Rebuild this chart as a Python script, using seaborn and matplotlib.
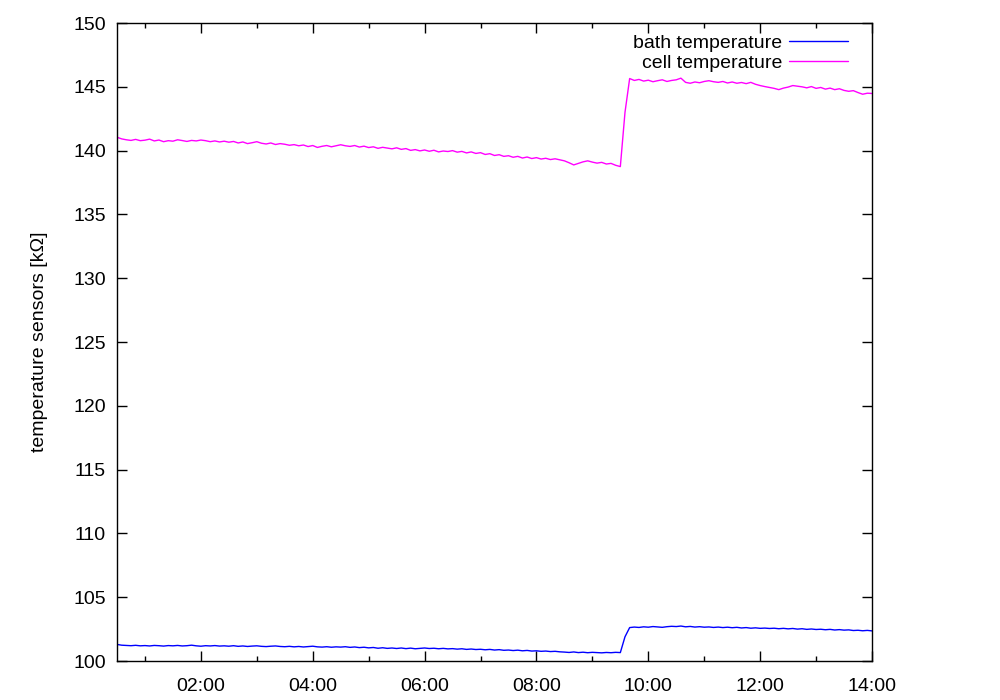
import matplotlib
matplotlib.use("Agg")
import matplotlib.pyplot as plt
import matplotlib.dates as mdates
import seaborn as sns
import pandas as pd

# readings every 5 minutes, 00:30 .. 14:00 (one row per hour)
cell_temp = [
    141.05, 140.92, 140.85, 140.80, 140.88, 140.78, 140.82, 140.90, 140.76, 140.83, 140.70, 140.78,
    140.74, 140.85, 140.79, 140.72, 140.80, 140.76, 140.83, 140.78, 140.70, 140.76, 140.68, 140.74,
    140.66, 140.72, 140.60, 140.68, 140.55, 140.62, 140.70, 140.58, 140.52, 140.60, 140.48, 140.55,
    140.50, 140.42, 140.47, 140.38, 140.44, 140.32, 140.40, 140.25, 140.34, 140.40, 140.30, 140.38,
    140.46, 140.38, 140.33, 140.40, 140.28, 140.35, 140.24, 140.30, 140.18, 140.26, 140.20, 140.14,
    140.22, 140.10, 140.16, 140.02, 140.08, 139.98, 140.05, 139.95, 140.03, 139.90, 139.97, 139.93,
    140.00, 139.88, 139.94, 139.82, 139.90, 139.78, 139.84, 139.70, 139.76, 139.62, 139.68, 139.55,
    139.60, 139.48, 139.55, 139.42, 139.50, 139.38, 139.45, 139.34, 139.40, 139.30, 139.36, 139.28,
    139.20, 139.05, 138.88, 139.00, 139.12, 139.20, 139.10, 139.02, 139.08, 138.95, 139.00, 138.85,
    138.75, 143.00, 145.65, 145.50, 145.58, 145.45, 145.52, 145.40, 145.48, 145.55, 145.42, 145.50,
    145.55, 145.68, 145.35, 145.28, 145.38, 145.32, 145.42, 145.48, 145.40, 145.35, 145.42, 145.30,
    145.38, 145.28, 145.34, 145.25, 145.35, 145.20, 145.10, 145.02, 144.95, 144.88, 144.78, 144.90,
    144.98, 145.10, 145.05, 145.00, 144.92, 145.02, 144.88, 144.95, 144.82, 144.90, 144.78, 144.85,
    144.72, 144.65, 144.70, 144.55, 144.42, 144.50, 144.48,
]
bath_temp = [
    101.30, 101.24, 101.22, 101.20, 101.23, 101.19, 101.21, 101.18, 101.22, 101.20, 101.17, 101.21,
    101.19, 101.22, 101.18, 101.20, 101.24, 101.19, 101.16, 101.20, 101.18, 101.21, 101.17, 101.19,
    101.16, 101.20, 101.15, 101.18, 101.14, 101.17, 101.19, 101.15, 101.13, 101.16, 101.18, 101.14,
    101.12, 101.15, 101.11, 101.14, 101.10, 101.13, 101.16, 101.11, 101.09, 101.12, 101.08, 101.11,
    101.09, 101.12, 101.07, 101.10, 101.05, 101.08, 101.03, 101.06, 101.00, 101.04, 100.99, 101.02,
    100.98, 101.02, 100.97, 101.01, 100.96, 100.99, 101.02, 100.98, 101.00, 100.96, 100.99, 100.95,
    100.97, 100.93, 100.96, 100.91, 100.94, 100.90, 100.92, 100.88, 100.91, 100.86, 100.89, 100.84,
    100.86, 100.82, 100.85, 100.80, 100.83, 100.78, 100.80, 100.76, 100.78, 100.74, 100.76, 100.72,
    100.70, 100.67, 100.71, 100.66, 100.69, 100.65, 100.68, 100.66, 100.64, 100.67, 100.65, 100.68,
    100.66, 101.90, 102.62, 102.66, 102.63, 102.68, 102.65, 102.70, 102.67, 102.64, 102.69, 102.72,
    102.70, 102.74, 102.68, 102.71, 102.66, 102.69, 102.65, 102.67, 102.63, 102.66, 102.62, 102.65,
    102.61, 102.64, 102.59, 102.62, 102.57, 102.60, 102.56, 102.58, 102.55, 102.57, 102.53, 102.56,
    102.52, 102.55, 102.50, 102.53, 102.48, 102.51, 102.47, 102.49, 102.45, 102.48, 102.43, 102.46,
    102.42, 102.44, 102.39, 102.41, 102.37, 102.40, 102.36,
]
times = pd.date_range("2000-01-01 00:30", "2000-01-01 14:00", freq="5min")
series_names = ["bath temperature", "cell temperature"]
series_colors = ["#0000ff", "#ff00ff"]

df = pd.concat([
    pd.DataFrame({"time": times, "value": bath_temp, "sensor": series_names[0]}),
    pd.DataFrame({"time": times, "value": cell_temp, "sensor": series_names[1]}),
])

sns.set_theme(style="ticks")
plt.rcParams["font.family"] = ["Liberation Sans", "DejaVu Sans"]
plt.rcParams["text.color"] = "black"
plt.rcParams["axes.labelcolor"] = "black"

fig = plt.figure(figsize=(10, 7), dpi=100)
ax = fig.add_axes([0.117, 0.0557, 0.755, 0.9114])
sns.lineplot(data=df, x="time", y="value", hue="sensor",
             palette=dict(zip(series_names, series_colors)),
             linewidth=1.0, ax=ax)

ax.set_xlim(pd.Timestamp("2000-01-01 00:30"), pd.Timestamp("2000-01-01 14:00"))
ax.set_ylim(100, 150)
ax.set_yticks(range(100, 151, 5))
ax.xaxis.set_major_locator(mdates.HourLocator(byhour=range(0, 24, 2)))
ax.xaxis.set_minor_locator(mdates.HourLocator())
ax.xaxis.set_major_formatter(mdates.DateFormatter("%H:%M"))

ax.tick_params(which="both", direction="in", top=True, right=True,
               colors="black", labelsize=14, width=1)
ax.tick_params(which="major", length=7)
ax.tick_params(which="minor", length=3.5)
ax.tick_params(axis="x", which="major", pad=12)
ax.tick_params(axis="y", which="major", pad=8)
for s in ax.spines.values():
    s.set_color("black")
    s.set_linewidth(1.0)

ax.set_xlabel("")
ax.set_ylabel("temperature sensors [kΩ]", fontsize=14, labelpad=18)

handles, labels = ax.get_legend_handles_labels()
ax.legend(handles, labels, loc="upper right", bbox_to_anchor=(0.991, 1.01),
          frameon=False, markerfirst=False, fontsize=14, labelcolor="black",
          handlelength=3.0, handletextpad=0.35, labelspacing=0.15)

fig.savefig("out.png", dpi=100)
